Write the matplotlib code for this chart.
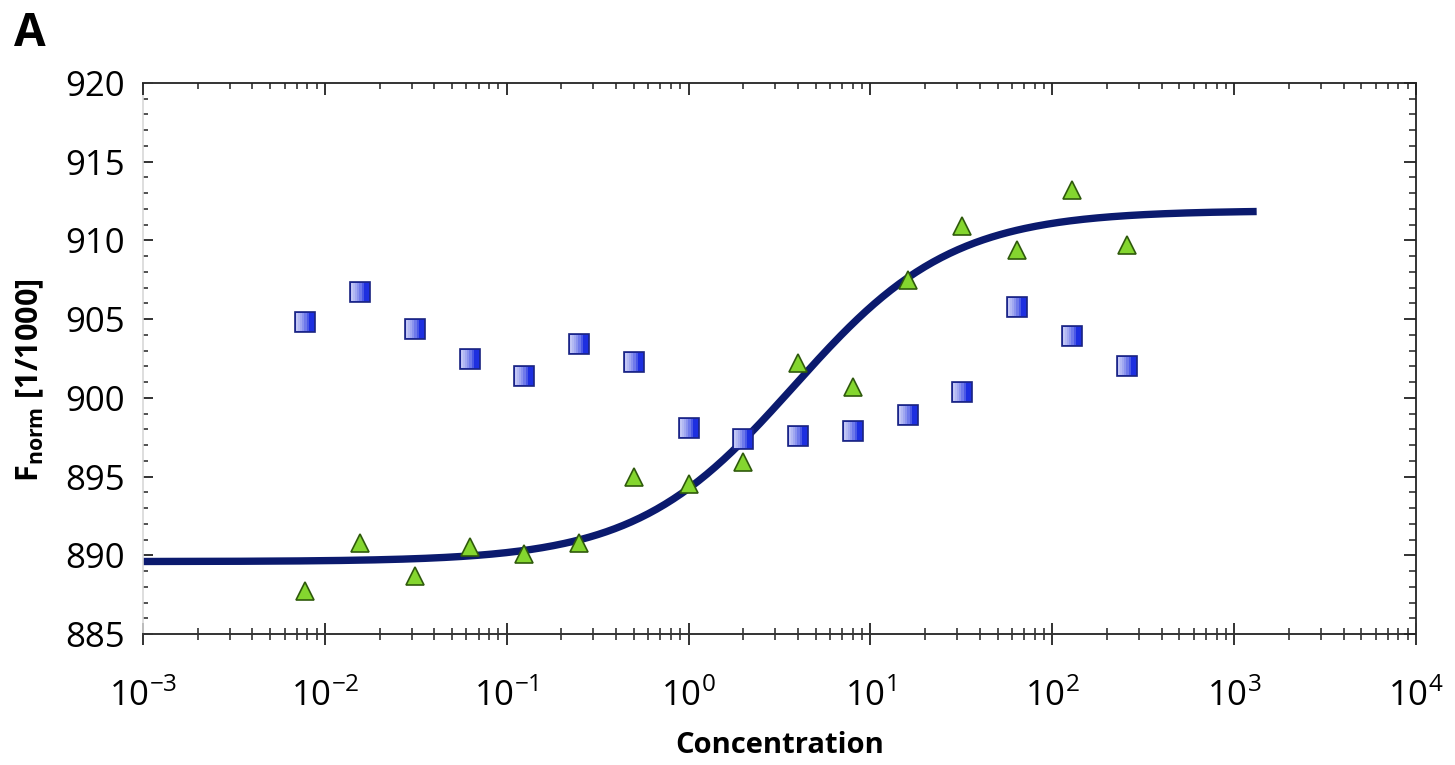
import numpy as np
import matplotlib
matplotlib.use("Agg")
import matplotlib.pyplot as plt
from matplotlib.path import Path
from matplotlib.ticker import MultipleLocator, LogLocator, FixedLocator, NullFormatter

plt.rcParams['font.family'] = ['Open Sans', 'DejaVu Sans']
plt.rcParams['mathtext.fontset'] = 'custom'
plt.rcParams['mathtext.rm'] = 'Open Sans'
plt.rcParams['mathtext.bf'] = 'Open Sans:bold'

# ligand concentrations (serial dilution)
conc = [0.0078, 0.0156, 0.0313, 0.0625, 0.125, 0.25, 0.5, 1, 2, 4, 8, 16, 32, 64, 128, 256]

# blue squares - no binding
fnorm_sq = [904.8, 906.7, 904.4, 902.5, 901.4, 903.4, 902.3, 898.1,
            897.4, 897.6, 897.9, 898.9, 900.4, 905.8, 903.9, 902.0]

# green triangles - binding
fnorm_tri = [887.7, 890.8, 888.7, 890.5, 890.1, 890.8, 895.0, 894.5,
             895.9, 902.2, 900.7, 907.5, 910.9, 909.4, 913.2, 909.7]

# fit parameters
fit_bottom = 889.6
fit_top = 911.9
fit_kd = 3.8
fit_hill = 1.0
fit_range = (1e-3, 1330)

xticks = [1e-3, 1e-2, 1e-1, 1e0, 1e1, 1e2, 1e3, 1e4]
xticklabels = [r'$10^{-3}$', r'$10^{-2}$', r'$10^{-1}$', r'$10^{0}$',
               r'$10^{1}$', r'$10^{2}$', r'$10^{3}$', r'$10^{4}$']
yticks = [885, 890, 895, 900, 905, 910, 915, 920]


def left_strip(frac):
    # rectangle anchored on the left side of the square marker
    x0, x1 = -1.0, -1.0 + 2 * frac
    verts = [(x0, -1), (x1, -1), (x1, 1), (x0, 1), (x0, -1)]
    return Path(verts, [Path.MOVETO, Path.LINETO, Path.LINETO, Path.LINETO, Path.CLOSEPOLY])


fig = plt.figure(figsize=(14.55, 7.65), dpi=100)
ax = fig.add_axes([143/1455, 1-634/765, (1416-143)/1455, (634-83)/765])

xf = np.logspace(np.log10(fit_range[0]), np.log10(fit_range[1]), 400)
yf = fit_bottom + (fit_top - fit_bottom) * xf**fit_hill / (xf**fit_hill + fit_kd**fit_hill)
ax.plot(xf, yf, color='#0b1a6e', lw=5.3, solid_capstyle='butt', zorder=2)

ax.plot(conc, fnorm_sq, ls='none', marker='s', ms=14,
        markerfacecolor='#1d2fe0', markeredgecolor='#1a2480',
        markeredgewidth=1.2, zorder=3)
# white-to-blue shading on the squares
for frac in [0.75, 0.6, 0.45, 0.32, 0.2, 0.1]:
    ax.plot(conc, fnorm_sq, ls='none', marker=left_strip(frac), ms=12.4,
            markerfacecolor='white', markeredgewidth=0, alpha=0.2, zorder=4)

ax.plot(conc, fnorm_tri, ls='none', marker='^', ms=13,
        markerfacecolor='#84d62f', markeredgecolor='#2f5a0c',
        markeredgewidth=1.2, zorder=3)

ax.set_xscale('log')
ax.set_xlim(1e-3, 1e4)
ax.set_ylim(885, 920)

ax.xaxis.set_major_locator(FixedLocator(xticks))
ax.set_xticklabels(xticklabels)
ax.xaxis.set_minor_locator(LogLocator(base=10, subs=np.arange(2, 10)))
ax.xaxis.set_minor_formatter(NullFormatter())
ax.yaxis.set_major_locator(FixedLocator(yticks))
ax.yaxis.set_minor_locator(MultipleLocator(1))

ax.tick_params(axis='x', which='major', direction='inout', length=16, width=1.3,
               labelsize=25, pad=24, color='#222222')
ax.tick_params(axis='x', which='minor', direction='inout', length=8, width=1.1,
               color='#222222')
ax.tick_params(axis='y', which='major', direction='in', length=7, width=1.3,
               labelsize=25, pad=13, color='#222222')
ax.tick_params(axis='y', which='minor', direction='in', length=3.6, width=1.1,
               color='#222222')

for s in ['top', 'right', 'bottom']:
    ax.spines[s].set_color('#333333')
    ax.spines[s].set_linewidth(1.4)
ax.spines['left'].set_color('#d8d8d8')
ax.spines['left'].set_linewidth(1.2)

# top ticks
axt = ax.twiny()
axt.set_xscale('log')
axt.set_xlim(ax.get_xlim())
axt.xaxis.set_major_locator(FixedLocator(xticks))
axt.xaxis.set_minor_locator(LogLocator(base=10, subs=np.arange(2, 10)))
axt.xaxis.set_major_formatter(NullFormatter())
axt.xaxis.set_minor_formatter(NullFormatter())
axt.tick_params(axis='x', which='major', direction='in', length=8.6, width=1.3, color='#222222')
axt.tick_params(axis='x', which='minor', direction='in', length=4.3, width=1.1, color='#222222')

# right ticks
axr = ax.twinx()
axr.set_ylim(ax.get_ylim())
axr.yaxis.set_major_locator(FixedLocator(yticks))
axr.yaxis.set_minor_locator(MultipleLocator(1))
axr.yaxis.set_major_formatter(NullFormatter())
axr.tick_params(axis='y', which='major', direction='in', length=9, width=1.3, color='#222222')
axr.tick_params(axis='y', which='minor', direction='in', length=5, width=1.1, color='#222222')
for a in (axt, axr):
    for s in a.spines.values():
        s.set_visible(False)

ax.set_xlabel('Concentration', fontsize=21, fontweight='bold', labelpad=12)
fig.text(30/1455, 1-380/765, r'$\mathbf{F_{norm}}$ [1/1000]', rotation=90,
         fontsize=22, fontweight='bold', ha='center', va='center')
fig.text(14/1455, 1-46/765, 'A', fontsize=33, fontweight='bold', ha='left', va='baseline')

fig.savefig('out.png', dpi=100)
